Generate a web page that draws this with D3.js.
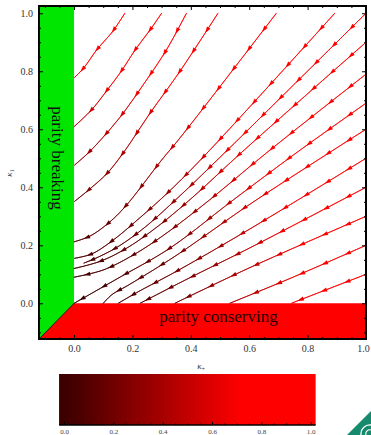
<!DOCTYPE html>
<html lang="en">
<head>
<meta charset="UTF-8">
<title>Parity flow</title>
<script src="https://cdn.jsdelivr.net/npm/d3@7"></script>
<style>
  body { margin: 0; background: #fff; }
  svg text { font-family: "Liberation Serif", "DejaVu Serif", serif; }
</style>
</head>
<body>
<svg id="chart" width="371" height="435"></svg>
<script>
// tick values
const xTickValues = [0.0, 0.2, 0.4, 0.6, 0.8, 1.0];
const yTickValues = [0.0, 0.2, 0.4, 0.6, 0.8, 1.0];
const barTickValues = [0.0, 0.2, 0.4, 0.6, 0.8, 1.0];

// shaded regions (data coords)
const breakingRegion = [[-0.12, -0.123], [0, 0], [0, 1.025], [-0.12, 1.025]];
const conservingRegion = [[-0.12, -0.123], [0, 0], [1.0, 0], [1.0, -0.123]];

// stream lines, listed from start to end (flow direction)
const linesToBreaking = [
  [[0.174, 1.0], [0.132, 0.937], [0.078, 0.874], [0.032, 0.81], [0, 0.777]],
  [[0.30, 1.0], [0.26, 0.942], [0.209, 0.873], [0.163, 0.802], [0.112, 0.733], [0.06, 0.667], [0, 0.609]],
  [[0.385, 1.0], [0.316, 0.873], [0.236, 0.752], [0.16, 0.645], [0.09, 0.562], [0.045, 0.515], [0, 0.475]],
  [[0.493, 1.0], [0.362, 0.799], [0.26, 0.655], [0.173, 0.525], [0.115, 0.45], [0.055, 0.395], [0, 0.35]],
  [[0.693, 1.0], [0.362, 0.569], [0.30, 0.494], [0.18, 0.339], [0.123, 0.281], [0.055, 0.232], [0, 0.212]],
  [[0.893, 1.0], [0.462, 0.525], [0.33, 0.39], [0.22, 0.29], [0.13, 0.215], [0.06, 0.17], [0, 0.155]],
  [[1.0, 1.0], [0.522, 0.525], [0.362, 0.37], [0.24, 0.26], [0.15, 0.195], [0.08, 0.158], [0.032, 0.138]],
  [[1.0, 0.9], [0.579, 0.525], [0.4, 0.36], [0.28, 0.26], [0.18, 0.19], [0.09, 0.145], [0, 0.12]],
  [[1.0, 0.79], [0.667, 0.525], [0.45, 0.345], [0.3, 0.23], [0.2, 0.165], [0.1, 0.115], [0, 0.09]]
];
const lineToOrigin = [[1.0, 0.69], [0.77, 0.525], [0.55, 0.36], [0.328, 0.19], [0.157, 0.09], [0, 0]];
const linesToConserving = [
  [[1.0, 0.6], [0.883, 0.525], [0.6, 0.34], [0.35, 0.165], [0.19, 0.065], [0.13, 0.03], [0.1, 0]],
  [[1.0, 0.5], [0.6, 0.255], [0.35, 0.11], [0.22, 0.04], [0.151, 0]],
  [[1.0, 0.4], [0.6, 0.19], [0.4, 0.09], [0.226, 0]],
  [[1.0, 0.3], [0.6, 0.122], [0.345, 0]],
  [[1.0, 0.2], [0.75, 0.09], [0.533, 0]],
  [[1.0, 0.1], [0.744, 0]]
];

const svg = d3.select("#chart");

const x = d3.scaleLinear().domain([-0.12, 1.0]).range([39, 366]);
const y = d3.scaleLinear().domain([-0.123, 1.025]).range([339, 6]);

const speedColor = d3.scaleLinear()
  .domain([0, 0.72, 1])
  .range(["#3a0000", "#ff0000", "#ff0000"])
  .clamp(true);

// regions
const poly = d3.line().x(d => x(d[0])).y(d => y(d[1]));
svg.append("path").attr("d", poly(breakingRegion) + "Z").attr("fill", "#00e600");
svg.append("path").attr("d", poly(conservingRegion) + "Z").attr("fill", "#ff0000");
svg.append("line")
  .attr("x1", x(-0.12)).attr("y1", y(-0.123))
  .attr("x2", x(0)).attr("y2", y(0))
  .attr("stroke", "#000").attr("stroke-width", 0.8);

svg.append("text")
  .attr("transform", `translate(57,158) rotate(90)`)
  .attr("text-anchor", "middle")
  .attr("dominant-baseline", "central")
  .attr("font-size", 17)
  .attr("fill", "#111")
  .text("parity breaking");

svg.append("text")
  .attr("x", 218.5).attr("y", 322)
  .attr("text-anchor", "middle")
  .attr("font-size", 17)
  .attr("fill", "#1a0000")
  .text("parity conserving");

// stream lines
const curve = d3.line()
  .x(d => x(d[0])).y(d => y(d[1]))
  .curve(d3.curveCatmullRom.alpha(0.5));

const flow = svg.append("g");
const allLines = [...linesToBreaking, lineToOrigin, ...linesToConserving];

allLines.forEach(pts => {
  const path = flow.append("path").attr("d", curve(pts)).attr("fill", "none");
  const node = path.node();
  const len = node.getTotalLength();
  const colorAt = p => speedColor(Math.pow(Math.hypot(x.invert(p.x), y.invert(p.y)), 1.5));

  let prev = node.getPointAtLength(0);
  for (let s = 1; s <= len + 0.5; s += 1) {
    const p = node.getPointAtLength(Math.min(s, len));
    flow.append("line")
      .attr("x1", prev.x).attr("y1", prev.y)
      .attr("x2", p.x).attr("y2", p.y)
      .attr("stroke", colorAt({ x: (prev.x + p.x) / 2, y: (prev.y + p.y) / 2 }))
      .attr("stroke-width", 0.9)
      .attr("stroke-linecap", "round");
    prev = p;
  }

  // arrow heads pointing along the flow
  for (let s = 20; s < len - 8; s += 25) {
    const a = node.getPointAtLength(s - 1.5);
    const b = node.getPointAtLength(s + 1.5);
    const p = node.getPointAtLength(s);
    const dl = Math.hypot(b.x - a.x, b.y - a.y);
    const dx = (b.x - a.x) / dl, dy = (b.y - a.y) / dl;
    const tip = [p.x + dx * 3.5, p.y + dy * 3.5];
    const bx = p.x - dx * 3, by = p.y - dy * 3;
    const l = [bx - dy * 2.1, by + dx * 2.1];
    const r = [bx + dy * 2.1, by - dx * 2.1];
    flow.append("path")
      .attr("d", `M${tip}L${l}L${r}Z`)
      .attr("fill", colorAt(p));
  }
  path.remove();
});

// frame axes, ticks pointing inward
const minorX = d3.range(-0.1, 1.0001, 0.05).filter(v => Math.abs(v * 5 - Math.round(v * 5)) > 1e-6);
const minorY = d3.range(-0.1, 1.0001, 0.05).filter(v => Math.abs(v * 5 - Math.round(v * 5)) > 1e-6);

function styleAxis(g) {
  g.select(".domain").remove();
  g.selectAll("line").attr("stroke", "#000");
  g.selectAll("text").attr("fill", "#333").attr("font-size", 10)
    .attr("font-family", "Liberation Serif, serif");
}
const fmt = d3.format(".1f");

svg.append("g").attr("transform", `translate(0,339)`)
  .call(d3.axisBottom(x).tickValues(xTickValues).tickFormat(fmt).tickSize(-4).tickPadding(6)).call(styleAxis)
  .call(g => g.selectAll("text").filter(d => d === 1.0).attr("dx", -3));
svg.append("g").attr("transform", `translate(0,339)`)
  .call(d3.axisBottom(x).tickValues(minorX).tickFormat("").tickSize(-2)).call(styleAxis);
svg.append("g").attr("transform", `translate(0,6)`)
  .call(d3.axisTop(x).tickValues(xTickValues).tickFormat("").tickSize(-4)).call(styleAxis);
svg.append("g").attr("transform", `translate(0,6)`)
  .call(d3.axisTop(x).tickValues(minorX).tickFormat("").tickSize(-2)).call(styleAxis);

svg.append("g").attr("transform", `translate(39,0)`)
  .call(d3.axisLeft(y).tickValues(yTickValues).tickFormat(fmt).tickSize(-4).tickPadding(6)).call(styleAxis);
svg.append("g").attr("transform", `translate(39,0)`)
  .call(d3.axisLeft(y).tickValues(minorY).tickFormat("").tickSize(-2)).call(styleAxis);
svg.append("g").attr("transform", `translate(366,0)`)
  .call(d3.axisRight(y).tickValues(yTickValues).tickFormat("").tickSize(-4)).call(styleAxis);
svg.append("g").attr("transform", `translate(366,0)`)
  .call(d3.axisRight(y).tickValues(minorY).tickFormat("").tickSize(-2)).call(styleAxis);

svg.append("rect")
  .attr("x", 39).attr("y", 6).attr("width", 327).attr("height", 333)
  .attr("fill", "none").attr("stroke", "#000").attr("stroke-width", 2);

// axis labels
svg.append("text")
  .attr("transform", "translate(12,173) rotate(-90)")
  .attr("text-anchor", "middle")
  .attr("font-size", 9).attr("font-style", "italic").attr("fill", "#333")
  .html('κ<tspan font-size="6" dy="2" font-style="normal">1</tspan>');

svg.append("text")
  .attr("x", 201).attr("y", 369)
  .attr("text-anchor", "middle")
  .attr("font-size", 9).attr("font-style", "italic").attr("fill", "#333")
  .html('κ<tspan font-size="6" dy="2" font-style="normal">+</tspan>');

// colour bar
const barX = d3.scaleLinear().domain([0, 1]).range([64, 310.7]);
const grad = svg.append("defs").append("linearGradient").attr("id", "bar-grad");
d3.range(0, 1.0001, 0.05).forEach(f => {
  const v = -0.02 + f * 1.04;
  grad.append("stop").attr("offset", f).attr("stop-color", speedColor(v));
});
svg.append("rect")
  .attr("x", barX(-0.02)).attr("y", 374)
  .attr("width", barX(1.02) - barX(-0.02)).attr("height", 51)
  .attr("fill", "url(#bar-grad)");

const barMinor = d3.range(0, 1.0001, 0.05).filter(v => Math.abs(v * 5 - Math.round(v * 5)) > 1e-6);
svg.append("g").attr("transform", "translate(0,425)")
  .call(d3.axisBottom(barX).tickValues(barTickValues).tickFormat(fmt).tickSize(-3).tickPadding(4))
  .call(g => {
    g.select(".domain").attr("stroke", "#000").attr("stroke-width", 1.5)
      .attr("d", `M${barX(-0.02)},0H${barX(1.02)}`);
    g.selectAll("line").attr("stroke", "#000");
    g.selectAll("text").attr("fill", "#444").attr("font-size", 7)
      .attr("font-family", "Liberation Serif, serif");
  });
svg.append("g").attr("transform", "translate(0,425)")
  .call(d3.axisBottom(barX).tickValues(barMinor).tickFormat("").tickSize(-1.5))
  .call(g => { g.select(".domain").remove(); g.selectAll("line").attr("stroke", "#000"); });

// corner logo fragment
svg.append("path").attr("d", "M347,435L371,411L371,435Z").attr("fill", "#158a6c");
svg.append("path").attr("d", "M361,435A9,9 0 0 1 371,425").attr("fill", "none")
  .attr("stroke", "#fff").attr("stroke-width", 1.3);
svg.append("path").attr("d", "M366,435A4,4 0 0 1 371,430").attr("fill", "none")
  .attr("stroke", "#fff").attr("stroke-width", 1.1);
</script>
</body>
</html>
